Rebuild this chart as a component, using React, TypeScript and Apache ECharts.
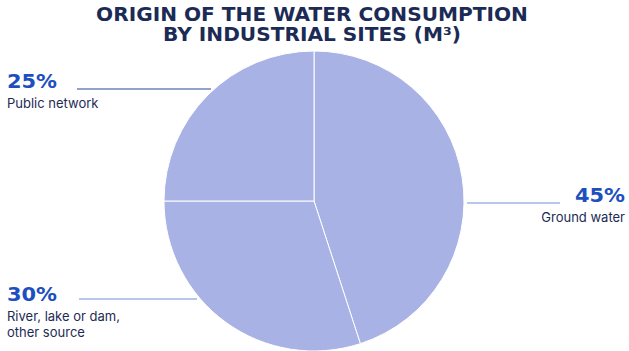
import React, { useEffect, useRef } from "react";
import * as echarts from "echarts";

// Share of water consumption by origin (%)
const categories = ["Ground water", "River, lake or dam,\nother source", "Public network"];
const shares = [45, 30, 25];

const titleLines = ["ORIGIN OF THE WATER CONSUMPTION", "BY INDUSTRIAL SITES (M³)"];

const NAVY = "#1c2b55";
const BLUE = "#1d4fbf";
const SLICE = "#a8b2e5";

export default function App() {
  const ref = useRef<HTMLDivElement>(null);

  useEffect(() => {
    if (!ref.current) return;
    const chart = echarts.init(ref.current, undefined, { renderer: "svg" });

    const pctFont = "bold 19px 'DejaVu Sans'";
    const descFont = "13px Inter";

    // Callout blocks: text anchor, alignment and the leader line beside the percent
    const callouts = [
      { idx: 0, x: 625, y: 186, align: "right", lx1: 467, lx2: 560, ly: 203, lc: "#6f8fd6" },
      { idx: 1, x: 7, y: 285, align: "left", lx1: 79, lx2: 197, ly: 299, lc: "#6f8fd6" },
      { idx: 2, x: 7, y: 72, align: "left", lx1: 77, lx2: 211, ly: 89, lc: "#24479e" },
    ];

    const graphics: any[] = [];
    titleLines.forEach((t, i) => {
      graphics.push({
        type: "text",
        x: 312,
        y: 5 + i * 20,
        scaleX: 1.06,
        style: {
          text: t,
          font: "900 19px 'DejaVu Sans'",
          fill: NAVY,
          align: "center",
          verticalAlign: "top",
        },
      });
    });
    callouts.forEach((c) => {
      graphics.push({
        type: "text",
        x: c.x,
        y: c.y,
        scaleX: 1.1,
        style: {
          text: shares[c.idx] + "%",
          font: pctFont,
          fill: BLUE,
          align: c.align,
          verticalAlign: "top",
        },
      });
      graphics.push({
        type: "text",
        x: c.x,
        y: c.y + 23,
        style: {
          text: categories[c.idx],
          font: descFont,
          fill: NAVY,
          align: c.align,
          verticalAlign: "top",
          lineHeight: 16,
        },
      });
      graphics.push({
        type: "line",
        shape: { x1: c.lx1, y1: c.ly, x2: c.lx2, y2: c.ly },
        style: { stroke: c.lc, lineWidth: 1.2 },
      });
    });

    chart.setOption({
      animation: false,
      series: [
        {
          type: "pie",
          center: [314, 201],
          radius: 150,
          startAngle: 90,
          clockwise: true,
          label: { show: false },
          labelLine: { show: false },
          silent: true,
          itemStyle: { color: SLICE, borderColor: "#ffffff", borderWidth: 1 },
          data: categories.map((name, i) => ({ name, value: shares[i] })),
        },
      ],
      graphic: graphics,
    });

    return () => chart.dispose();
  }, []);

  return (
    <div
      ref={ref}
      style={{ position: "fixed", left: 0, top: 0, width: 629, height: 351, background: "#fff" }}
    />
  );
}
